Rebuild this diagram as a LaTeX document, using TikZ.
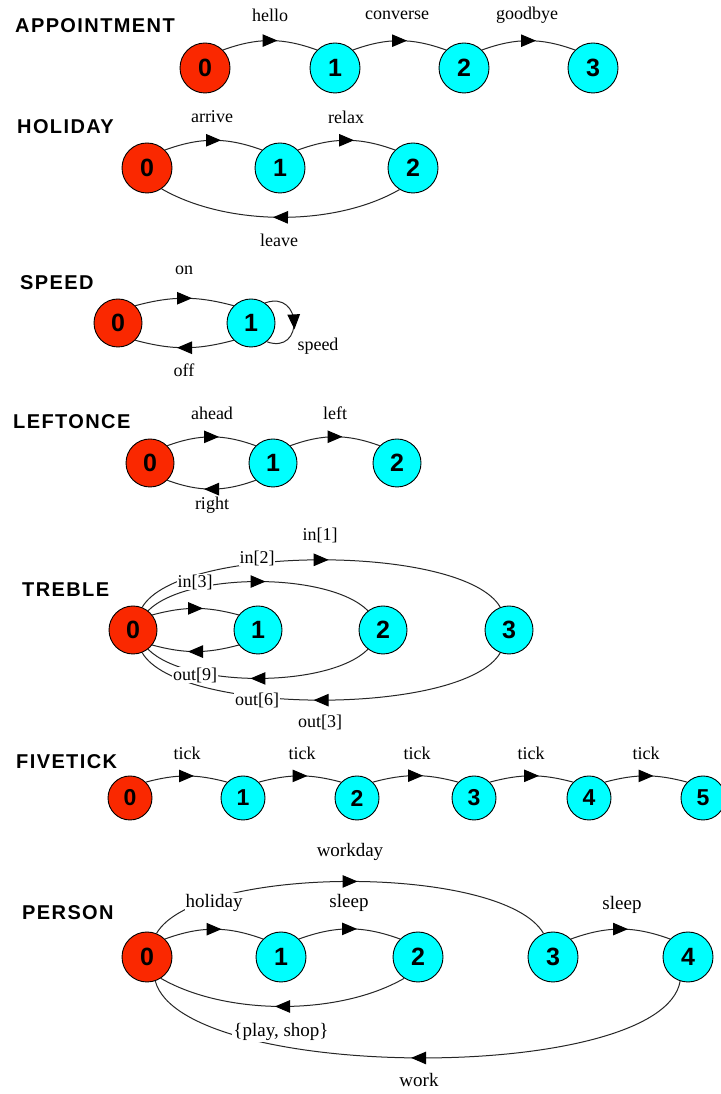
\documentclass[tikz,border=0pt]{standalone}
\usepackage{fontspec}
\setmainfont{Liberation Serif}
\newfontfamily\titlefnt{Liberation Sans}[LetterSpace=7]
\newfontfamily\numfnt{Liberation Sans}
\usetikzlibrary{arrows.meta,decorations.markings}
\definecolor{stred}{RGB}{250,40,0}
\definecolor{stcyan}{RGB}{0,255,255}
\begin{document}
\begin{tikzpicture}[x=1pt,y=1pt,
  st/.style={circle,draw=black,line width=0.9pt,minimum size=48pt,inner sep=0pt,font=\numfnt\bfseries\fontsize{25}{25}\selectfont},
  s0/.style={st,fill=stred},
  s1/.style={st,fill=stcyan},
  ttl/.style={anchor=west,inner sep=0pt,font=\titlefnt\bfseries\fontsize{20}{20}\selectfont},
  lbl/.style={fill=white,inner sep=1pt,font=\fontsize{18}{18}\selectfont},
  tr/.style={line width=1pt,draw=black!85,postaction={decorate},decoration={markings,mark=at position 0.5 with {\pgftransformxshift{7.5pt}\arrow[black]{Triangle[length=15pt,width=12.5pt]}}}},
  up/.style={out=20,in=160},
  dn/.style={out=-160,in=-20}]
\fill[white] (0,0) rectangle (720,1094);
\useasboundingbox (0,0) rectangle (720,1094);

% ---------- APPOINTMENT ----------
\node[ttl] (tA) at (15,1068) {APPOINTMENT};
\node[s0,minimum size=50pt] (A0) at (205,1026) {0};
\node[s1,minimum size=50pt] (A1) at (335,1026) {1};
\node[s1,minimum size=50pt] (A2) at (464,1026) {2};
\node[s1,minimum size=50pt] (A3) at (593,1026) {3};
\draw[tr] (A0.45) to[up] (A1.135);
\draw[tr] (A1.45) to[up] (A2.135);
\draw[tr] (A2.45) to[up] (A3.135);
\node[lbl] (lA1) at (270,1079) {hello};
\node[lbl] (lA2) at (397,1079) {converse};
\node[lbl] (lA3) at (527,1079) {goodbye};

% ---------- HOLIDAY ----------
\node[ttl] (tH) at (17,967) {HOLIDAY};
\node[s0,minimum size=50pt] (H0) at (147,926) {0};
\node[s1,minimum size=50pt] (H1) at (280,926) {1};
\node[s1,minimum size=50pt] (H2) at (413,926) {2};
\draw[tr] (H0.45) to[up] (H1.135);
\draw[tr] (H1.45) to[up] (H2.135);
\draw[tr] (H2.-122) to[out=-150,in=-30,distance=75pt] (H0.-55);
\node[lbl] (lH1) at (212,977) {arrive};
\node[lbl] (lH2) at (346,977) {relax};
\node[lbl] (lH3) at (279,854) {leave};

% ---------- SPEED ----------
\node[ttl] (tS) at (20,811) {SPEED};
\node[s0] (S0) at (118,771) {0};
\node[s1] (S1) at (251,771) {1};
\draw[tr] (S0.45) to[out=15,in=165] (S1.135);
\draw[tr] (S1.-135) to[out=-165,in=-15] (S0.-45);
\draw[tr] (S1.55) to[out=20,in=-20,distance=40pt] (S1.-50);
\node[lbl] (lS1) at (184,824) {on};
\node[lbl] (lS2) at (184,724) {off};
\node[lbl] (lS3) at (318,748) {speed};

% ---------- LEFTONCE ----------
\node[ttl] (tL) at (13,672) {LEFTONCE};
\node[s0] (L0) at (150,631) {0};
\node[s1] (L1) at (273,631) {1};
\node[s1] (L2) at (397,631) {2};
\draw[tr] (L0.45) to[up] (L1.135);
\draw[tr] (L1.45) to[up] (L2.135);
\draw[tr] (L1.-135) to[dn] (L0.-45);
\node[lbl] (lL1) at (212,681) {ahead};
\node[lbl] (lL2) at (335,681) {left};
\node[lbl] (lL3) at (212,589) {right};

% ---------- TREBLE ----------
\node[ttl] (tT) at (22,504) {TREBLE};
\node[s0] (T0) at (133,464) {0};
\node[s1] (T1) at (258,464) {1};
\node[s1] (T2) at (383,464) {2};
\node[s1] (T3) at (509,464) {3};
\draw[tr] (T0.38) to[out=15,in=165] (T1.142);
\draw[tr] (T0.52) to[out=45,in=135,distance=55pt] (T2.128);
\draw[tr] (T0.68) to[out=60,in=120,distance=73pt] (T3.111);
\draw[tr] (T1.-142) to[out=-165,in=-15] (T0.-38);
\draw[tr] (T2.-128) to[out=-135,in=-45,distance=55pt] (T0.-52);
\draw[tr] (T3.-111) to[out=-120,in=-60,distance=73pt] (T0.-68);
\node[lbl] (lT1) at (320,559) {in[1]};
\node[lbl] (lT2) at (257,536) {in[2]};
\node[lbl] (lT3) at (195,512) {in[3]};
\node[lbl] (lT4) at (195,419) {out[9]};
\node[lbl] (lT5) at (257,394) {out[6]};
\node[lbl] (lT6) at (320,372) {out[3]};

% ---------- FIVETICK ----------
\node[ttl] (tF) at (16,332) {FIVETICK};
\node[s0,minimum size=44pt,font=\numfnt\bfseries\fontsize{23}{23}\selectfont] (F0) at (130,296) {0};
\node[s1,minimum size=44pt,font=\numfnt\bfseries\fontsize{23}{23}\selectfont] (F1) at (243,296) {1};
\node[s1,minimum size=44pt,font=\numfnt\bfseries\fontsize{23}{23}\selectfont] (F2) at (357,296) {2};
\node[s1,minimum size=44pt,font=\numfnt\bfseries\fontsize{23}{23}\selectfont] (F3) at (474,296) {3};
\node[s1,minimum size=44pt,font=\numfnt\bfseries\fontsize{23}{23}\selectfont] (F4) at (589,296) {4};
\node[s1,minimum size=44pt,font=\numfnt\bfseries\fontsize{23}{23}\selectfont] (F5) at (703,296) {5};
\draw[tr] (F0.45) to[out=15,in=165] (F1.135);
\draw[tr] (F1.45) to[out=15,in=165] (F2.135);
\draw[tr] (F2.45) to[out=15,in=165] (F3.135);
\draw[tr] (F3.45) to[out=15,in=165] (F4.135);
\draw[tr] (F4.45) to[out=15,in=165] (F5.135);
\node[lbl] (lF1) at (187,341) {tick};
\node[lbl] (lF2) at (302,341) {tick};
\node[lbl] (lF3) at (417,341) {tick};
\node[lbl] (lF4) at (531,341) {tick};
\node[lbl] (lF5) at (646,341) {tick};

% ---------- PERSON ----------
\node[ttl] (tP) at (22,181) {PERSON};
\node[s0,minimum size=50pt] (P0) at (147,137) {0};
\node[s1,minimum size=50pt] (P1) at (281,137) {1};
\node[s1,minimum size=50pt] (P2) at (418,137) {2};
\node[s1,minimum size=50pt] (P3) at (553,137) {3};
\node[s1,minimum size=50pt] (P4) at (688,137) {4};
\draw[tr] (P0.45) to[up] (P1.135);
\draw[tr] (P1.45) to[up] (P2.135);
\draw[tr] (P3.45) to[up] (P4.135);
\draw[tr] (P0.68) to[out=60,in=120,distance=80pt] (P3.112);
\draw[tr] (P2.-123) to[out=-150,in=-30,distance=75pt] (P0.-57);
\draw[tr] (P4.-108) to[out=-100,in=-75,distance=105pt] (P0.-71);
\node[lbl,font=\fontsize{19}{19}\selectfont] (lP1) at (214,191) {holiday};
\node[lbl,font=\fontsize{19}{19}\selectfont] (lP2) at (349,191) {sleep};
\node[lbl,font=\fontsize{19}{19}\selectfont] (lP3) at (350,242) {workday};
\node[lbl,font=\fontsize{19}{19}\selectfont] (lP4) at (622,189) {sleep};
\node[lbl,font=\fontsize{19}{19}\selectfont] (lP5) at (281,62) {\{play, shop\}};
\node[lbl,font=\fontsize{19}{19}\selectfont] (lP6) at (419,14) {work};
\end{tikzpicture}
\end{document}
